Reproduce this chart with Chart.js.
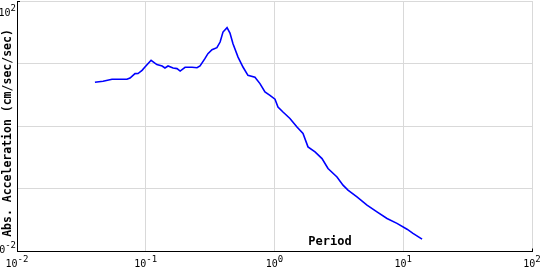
<!DOCTYPE html>
<html>
<head>
<meta charset="utf-8">
<script src="https://cdn.jsdelivr.net/npm/chart.js@4/dist/chart.umd.min.js"></script>
<style>
	body { margin: 0; background: #fff; }
	canvas { display: block; }
</style>
</head>
<body>
<canvas id="spectrumChart" width="540" height="270"></canvas>
<script>
// response spectrum
const periods = [0.0403, 0.0466, 0.0547, 0.0714, 0.0755, 0.0825, 0.0871, 0.0936, 0.0986, 0.110,
	0.122, 0.134, 0.141, 0.149, 0.163, 0.175, 0.185, 0.202, 0.229, 0.250,
	0.264, 0.288, 0.304, 0.327, 0.357, 0.378, 0.398, 0.428, 0.451, 0.476,
	0.521, 0.569, 0.622, 0.705, 0.771, 0.843, 0.922, 1.009, 1.064, 1.164,
	1.318, 1.495, 1.665, 1.820, 2.064, 2.339, 2.604, 3.058, 3.405, 3.72,
	4.37, 5.23, 6.25, 7.48, 8.94, 10.7, 11.9, 14.0];
const accels = [5.03, 5.22, 5.62, 5.62, 5.89, 6.93, 6.95, 7.82, 8.83, 11.3,
	9.64, 9.16, 8.51, 9.16, 8.51, 8.32, 7.62, 8.73, 8.73, 8.6,
	9.16, 12.0, 14.4, 16.7, 18.0, 22.1, 31.9, 37.5, 30.8, 20.8,
	12.7, 8.83, 6.50, 6.05, 4.80, 3.52, 3.12, 2.70, 2.03, 1.69,
	1.33, 0.975, 0.766, 0.468, 0.389, 0.305, 0.2115, 0.155, 0.1146, 0.0953,
	0.0745, 0.0550, 0.0430, 0.0337, 0.0281, 0.0227, 0.0195, 0.0158];

// decade ticks and their exponents
const xTicks = [0.01, 0.1, 1, 10, 100];
const xExps = ["-2", "-1", "0", "1", "2"];
const yTicks = [0.01, 0.1, 1, 10, 100];
const yLabelTicks = [100, 0.01];
const yLabelExps = ["2", "-2"];

const xTitle = "Period";
const yTitle = "Abs. Acceleration (cm/sec/sec)";

const mono = '"DejaVu Sans Mono", "Liberation Mono", monospace';

// draws "10" with a raised exponent, centred or right aligned at x
function drawPower(ctx, exp, x, baseline, align) {
	ctx.font = "10px " + mono;
	const wBase = ctx.measureText("10").width;
	ctx.font = "9px " + mono;
	const wExp = ctx.measureText(exp).width;
	const total = wBase + wExp;
	let left = align === "right" ? x - total : x - total / 2;
	ctx.textAlign = "left";
	ctx.textBaseline = "alphabetic";
	ctx.fillStyle = "#000";
	ctx.font = "10px " + mono;
	ctx.fillText("10", left, baseline);
	ctx.font = "9px " + mono;
	ctx.fillText(exp, left + wBase, baseline - 5);
}

const labelsPlugin = {
	id: "labels",
	afterDraw(chart) {
		const ctx = chart.ctx;
		const xs = chart.scales.x;
		const ys = chart.scales.y;
		const area = chart.chartArea;
		ctx.save();

		// small end ticks
		ctx.strokeStyle = "#000";
		ctx.lineWidth = 1;
		ctx.beginPath();
		ctx.moveTo(area.left, Math.round(area.top) + 0.5);
		ctx.lineTo(area.left + 3, Math.round(area.top) + 0.5);
		ctx.moveTo(Math.round(area.right) + 0.5, area.bottom);
		ctx.lineTo(Math.round(area.right) + 0.5, area.bottom - 3);
		ctx.stroke();

		// x tick labels
		xTicks.forEach((v, i) => {
			drawPower(ctx, xExps[i], xs.getPixelForValue(v), 267, "center");
		});

		// y tick labels, only at the ends
		yLabelTicks.forEach((v, i) => {
			const py = ys.getPixelForValue(v);
			const baseline = i === 0 ? py + 15 : py + 1;
			drawPower(ctx, yLabelExps[i], area.left - 1, baseline, "right");
		});

		// axis titles
		ctx.fillStyle = "#000";
		ctx.font = "bold 12px " + mono;
		ctx.textAlign = "center";
		ctx.textBaseline = "middle";
		ctx.fillText(xTitle, xs.getPixelForValue(2.7), 242);

		ctx.translate(8, 133);
		ctx.rotate(-Math.PI / 2);
		ctx.font = "bold 11.5px " + mono;
		ctx.fillText(yTitle, 0, 0);
		ctx.restore();
	},
};

function decadeTicks(list) {
	return (scale) => {
		scale.ticks = list.map((v) => ({ value: v, major: true }));
	};
}

const ctx = document.getElementById("spectrumChart").getContext("2d");
new Chart(ctx, {
	type: "line",
	data: {
		datasets: [
			{
				data: periods.map((p, i) => ({ x: p, y: accels[i] })),
				borderColor: "#0000ff",
				borderWidth: 1.6,
				pointRadius: 0,
				tension: 0,
				fill: false,
			},
		],
	},
	options: {
		responsive: false,
		animation: false,
		devicePixelRatio: 1,
		layout: { padding: { left: 17, right: 8, top: 1, bottom: 18.5 } },
		plugins: {
			legend: { display: false },
			tooltip: { enabled: false },
		},
		scales: {
			x: {
				type: "logarithmic",
				min: 0.01,
				max: 100,
				afterBuildTicks: decadeTicks(xTicks),
				ticks: { display: false },
				grid: { color: "#d9d9d9", drawTicks: false },
				border: { display: true, color: "#000" },
			},
			y: {
				type: "logarithmic",
				min: 0.01,
				max: 100,
				afterBuildTicks: decadeTicks(yTicks),
				ticks: { display: false },
				grid: { color: "#d9d9d9", drawTicks: false },
				border: { display: true, color: "#000" },
			},
		},
	},
	plugins: [labelsPlugin],
});
</script>
</body>
</html>
